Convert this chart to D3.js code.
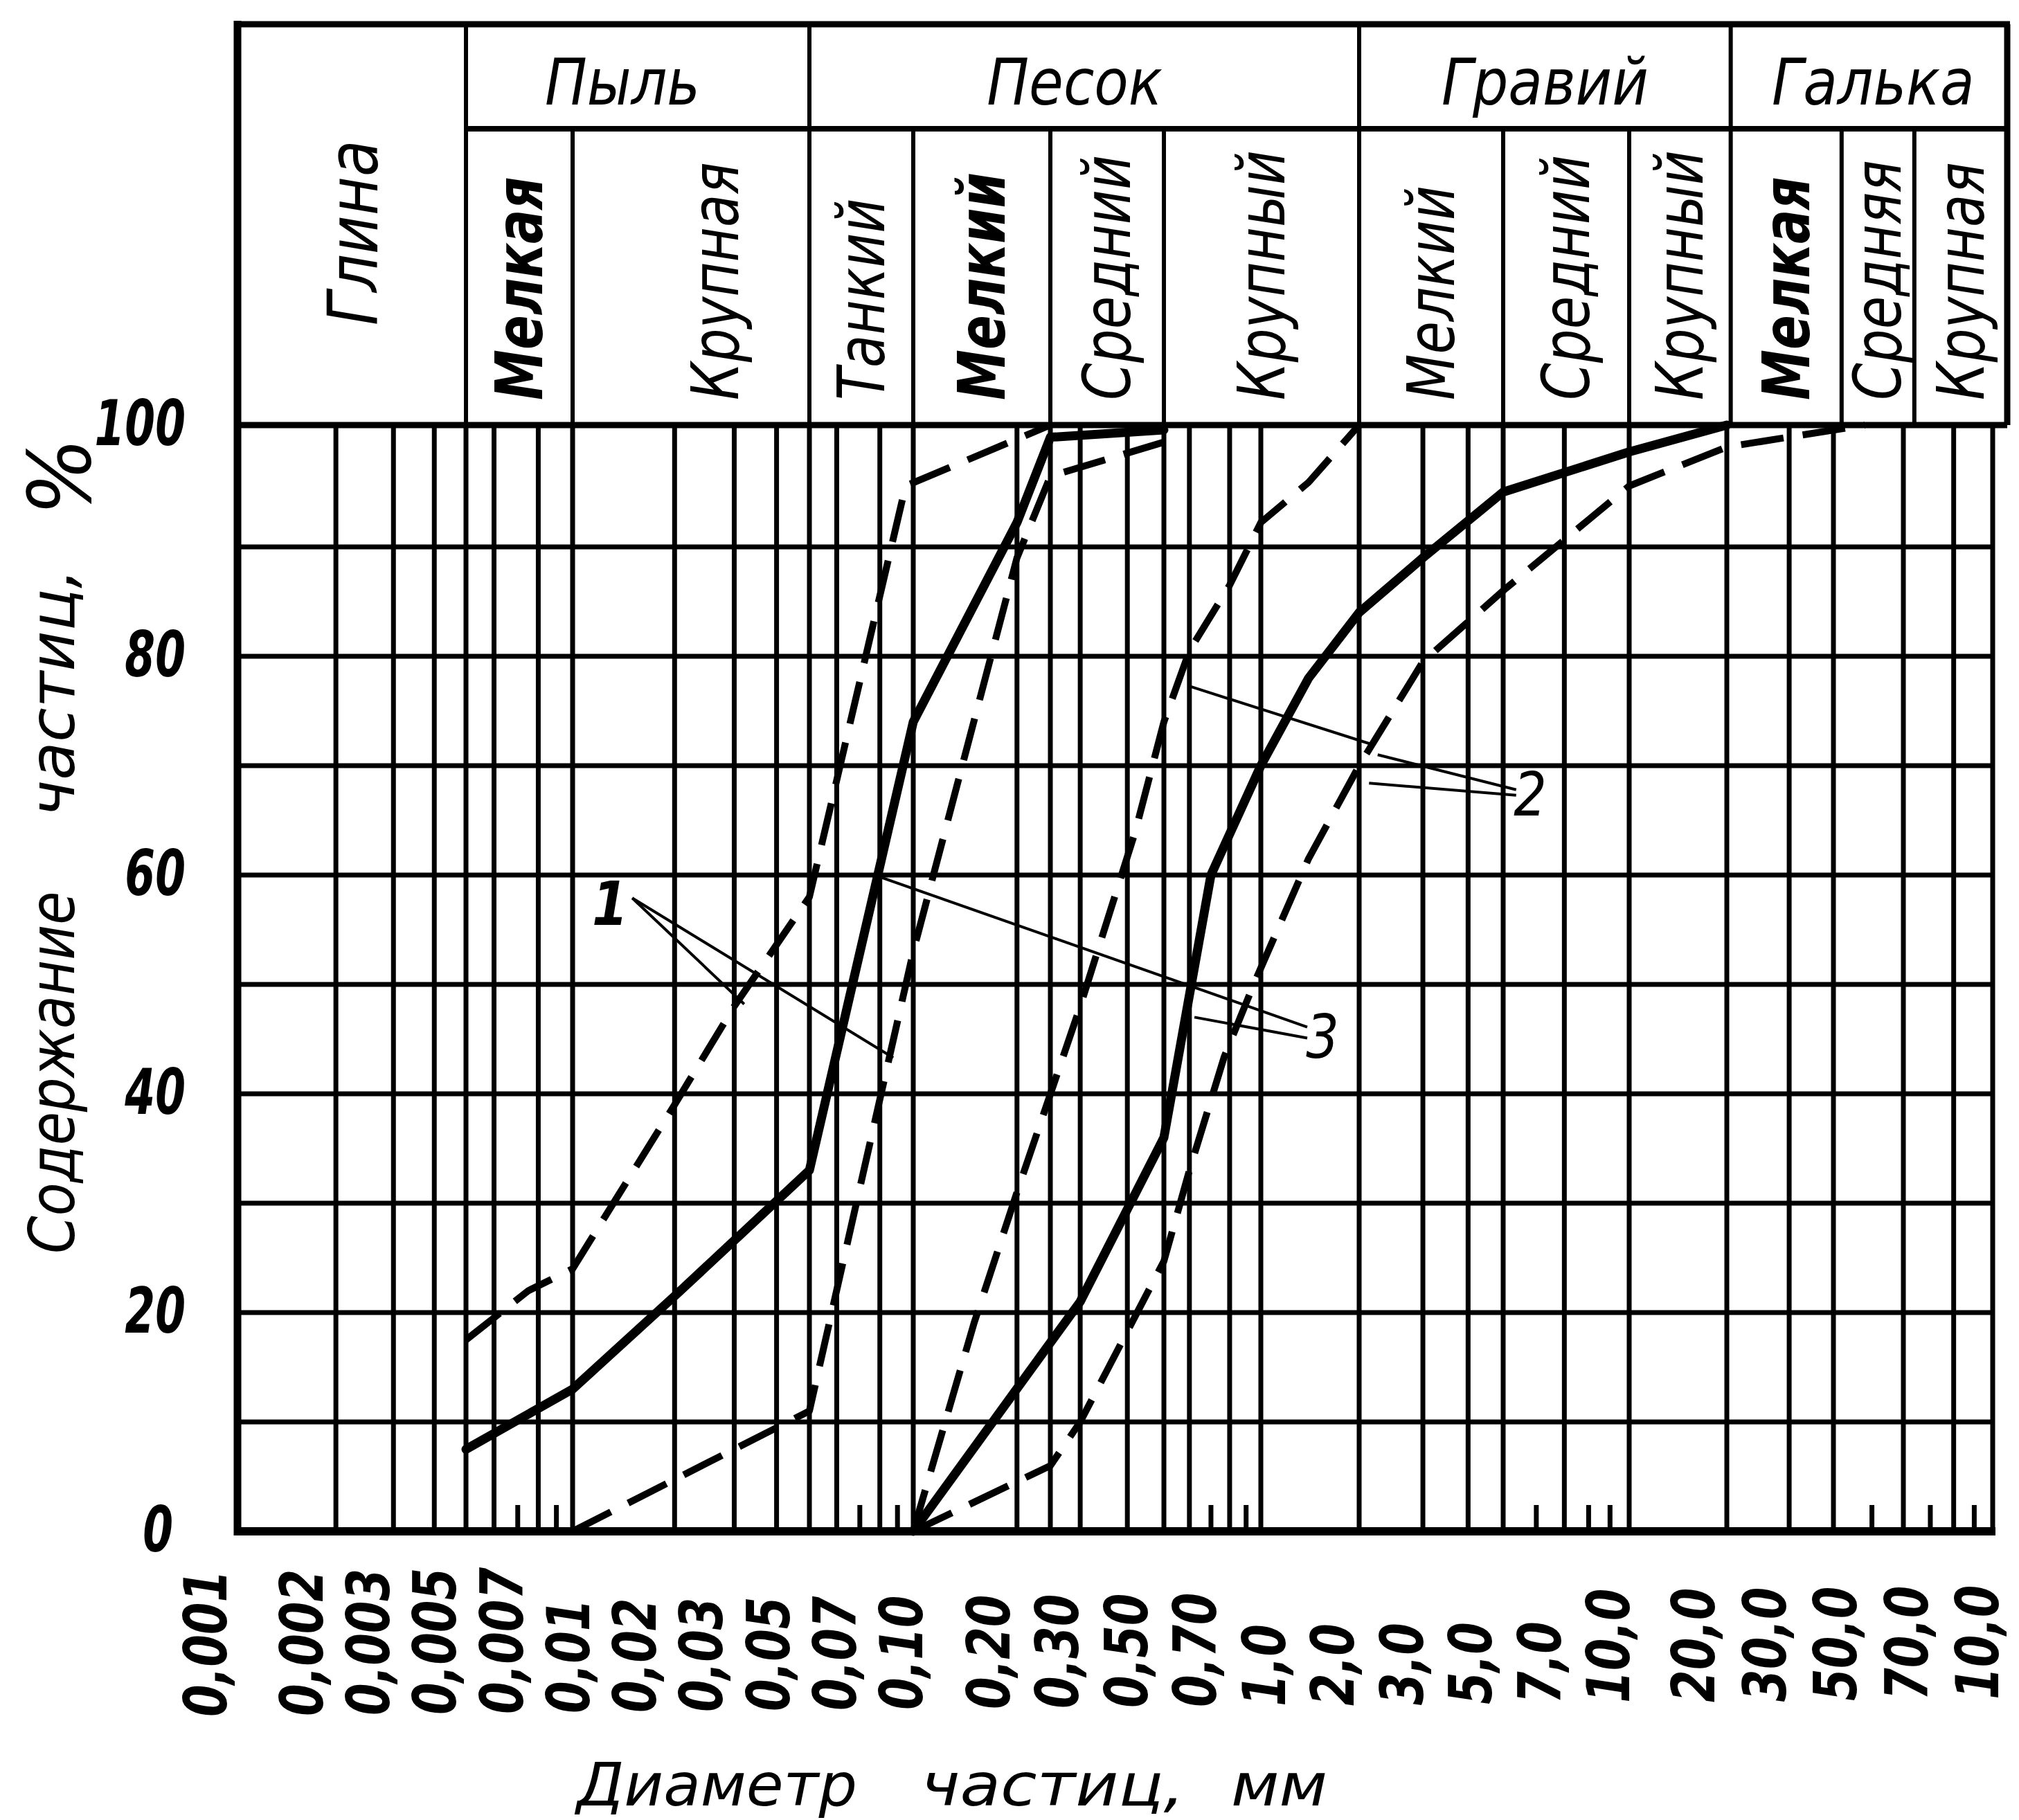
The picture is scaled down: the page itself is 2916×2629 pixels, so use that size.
<!DOCTYPE html>
<html><head><meta charset="utf-8">
<script src="https://cdn.jsdelivr.net/npm/d3@7"></script>
<style>body{margin:0;background:#fff}svg{display:block}</style>
</head><body>
<svg id="c" width="2916" height="2629"></svg>
<script>
// ---------------- data ----------------
const yGridValues = [0,10,20,30,40,50,60,70,80,90,100];
const yTickValues = [0,20,40,60,80,100];
const gridDiameters = [0.001,0.002,0.003,0.004,0.005,0.006,0.008,0.01,0.02,0.03,0.04,0.05,0.06,0.08,0.1,0.2,0.25,0.3,0.4,0.5,0.6,0.8,1,2,3,4,5,7,10,20,30,40,60,80,100];
const shortTickDiameters = [0.007,0.009,0.07,0.09,0.7,0.9,6,8,9,50,70,90];
const xTickLabels = ["0,001","0,002","0,003","0,005","0,007","0,01","0,02","0,03","0,05","0,07","0,10","0,20","0,30","0,50","0,70","1,0","2,0","3,0","5,0","7,0","10,0","20,0","30,0","50,0","70,0","10,0"];
const groupNames = ["Пыль","Песок","Гравий","Галька"];
const groupBounds = [[0.005,0.05],[0.05,2],[2,20],[20,100]];
const classNames = ["Глина","Мелкая","Крупная","Танкий","Мелкий","Средний","Крупный","Мелкий","Средний","Крупный","Мелкая","Средняя","Крупная"];
const classBounds = [0.001,0.005,0.01,0.05,0.1,0.25,0.5,2,5,10,20,40,60,100];
// curves: [diameter mm, percent]
const fineUpper = [[0.005,17.5],[0.0075,22],[0.01,24],[0.02,39],[0.03,48],[0.05,58],[0.095,95],[0.25,100]];
const fineMean  = [[0.005,7.5],[0.01,13],[0.02,21.5],[0.05,33],[0.1,74],[0.2,92],[0.25,99],[0.5,99.6]];
const fineLower = [[0.01,0],[0.05,11],[0.1,53],[0.2,89],[0.25,95.8],[0.5,98.6]];
const coarseMean  = [[0.1,0],[0.3,21],[0.5,36],[0.7,60],[1,70],[1.4,78],[2,84],[3,89],[5,94.5],[10,97.8],[20,100]];
const coarseUpper = [[0.1,0],[0.15,19],[0.2,31],[0.3,48],[0.42,64],[0.5,74],[0.6,80.5],[0.8,86.5],[1,92],[1.4,95.3],[2,100]];
const coarseLower = [[0.1,0],[0.25,6],[0.3,10],[0.5,24.7],[0.6,33],[0.77,43.4],[0.95,50],[1.4,61.5],[2,70],[3,79.5],[5,86],[10,95],[20,98.2],[48,100]];
// callouts
const calloutNames = ["1","2","3"];
const calloutAt = [[0.0129,57.5],[5.8,67.5],[1.545,45.3]];
const calloutLines = [
  [0,[0.015,57.9],[0.0321,48.2]],
  [0,[0.015,57.9],[0.0875,43.3]],
  [1,[0.595,77.3],[2.19,71.9]],
  [1,[2.25,71.0],[5.37,67.8]],
  [1,[2.13,68.4],[5.37,67.3]],
  [2,[0.0772,60.0],[1.387,46.1]],
  [2,[0.622,47.0],[1.387,45.1]]
];

// ---------------- scales ----------------
const xKnots = [0.001,0.005,0.01,0.05,0.1,0.25,0.5,1,2,5,10,20,40,60,100];
const xKnotPx = [343,673,827,1169,1319,1517,1681,1821,1963,2171,2353,2494,2648,2749,2878];
const xLog = d3.scaleLinear().domain(xKnots.map(Math.log10)).range(xKnotPx);
const x = d => xLog(Math.log10(d));
const hx = d => { const v = x(d); return v + Math.max(0, v - 2353) * 0.04; };
const y = d3.scaleLinear().domain([0,90,100]).range([2212,790,614]);
const labelX = d3.scaleLinear().domain([0,1,10,11,20,21,25]).range([303,442,1308,1434,2329,2452,2862]);

const FONT = '"DejaVu Sans", sans-serif';
const svg = d3.select('#c');
svg.append('rect').attr('width',2916).attr('height',2629).attr('fill','#fff');

function txt(g, s, tx, ty, o) {
  const t = g.append('text')
    .attr('transform', `translate(${tx},${ty}) rotate(${o.rot||0}) scale(${o.sx||1},1)`)
    .attr('font-family', FONT).attr('font-style', o.style||'italic')
    .attr('font-weight', o.weight||'normal').attr('font-size', o.size)
    .attr('text-anchor', o.anchor||'start').attr('fill','#000').text(s);
  if (o.len) t.attr('textLength', o.len).attr('lengthAdjust','spacingAndGlyphs');
  return t;
}

// ---------------- grid ----------------
const grid = svg.append('g').attr('stroke','#000');
grid.selectAll('line.v').data(gridDiameters).join('line')
  .attr('x1',d=>x(d)).attr('x2',d=>x(d)).attr('y1',y(100)).attr('y2',y(0))
  .attr('stroke-width',7);
grid.selectAll('line.h').data(yGridValues).join('line')
  .attr('x1',x(0.001)).attr('x2',x(100)).attr('y1',d=>y(d)).attr('y2',d=>y(d))
  .attr('stroke-width',7);
grid.selectAll('line.t').data(shortTickDiameters).join('line')
  .attr('x1',d=>x(d)).attr('x2',d=>x(d)).attr('y1',y(0)).attr('y2',y(0)-38)
  .attr('stroke-width',7);
// frame
grid.append('line').attr('x1',x(0.001)).attr('x2',x(0.001)).attr('y1',30).attr('y2',y(0)+6).attr('stroke-width',11);
grid.append('line').attr('x1',x(0.001)-5).attr('x2',x(100)+4).attr('y1',y(0)).attr('y2',y(0)).attr('stroke-width',12);
grid.append('line').attr('x1',x(0.001)).attr('x2',hx(100)).attr('y1',y(100)).attr('y2',y(100)).attr('stroke-width',9);

// ---------------- header ----------------
const head = svg.append('g').attr('stroke','#000');
const headTop = 35, headMid = 186;
head.append('line').attr('x1',hx(0.001)).attr('x2',hx(100)+4).attr('y1',headTop).attr('y2',headTop).attr('stroke-width',9);
head.append('line').attr('x1',hx(0.005)).attr('x2',hx(100)).attr('y1',headMid).attr('y2',headMid).attr('stroke-width',8);
const fullBounds = new Set([0.001,0.005,0.05,2,20,100]);
head.selectAll('line.c').data(classBounds).join('line')
  .attr('x1',d=>hx(d)).attr('x2',d=>hx(d))
  .attr('y1',d=>fullBounds.has(d)?headTop:headMid).attr('y2',y(100))
  .attr('stroke-width',d=>d===100?9:6);

const ht = svg.append('g');
const groupDx = [-22,-14,0,6];
groupNames.forEach((n,i)=>{
  const cx = (hx(groupBounds[i][0])+hx(groupBounds[i][1]))/2 + groupDx[i];
  txt(ht, n, cx, 151, {size:93, sx:0.87, anchor:'middle'});
});
const boldCols = new Set([1,4,10]);
classNames.forEach((n,i)=>{
  const cx = (hx(classBounds[i])+hx(classBounds[i+1]))/2;
  if (i===0) {
    txt(ht, n, cx+37, 470, {size:100, sx:0.86, rot:-90});
  } else {
    const dx = i===2 ? 35 : 0;
    txt(ht, n, cx+33+dx, 578, {size:94, sx: boldCols.has(i)?0.78:0.82, rot:-90, weight: boldCols.has(i)?'bold':'normal'});
  }
});

// ---------------- axes labels ----------------
const ax = svg.append('g');
yTickValues.forEach(v=>{
  txt(ax, String(v), v===0?250:268, y(v)+29, {size:90, sx:0.7, anchor:'end', weight:'bold'});
});
xTickLabels.forEach((s,i)=>{
  const yStart = 2480 - 25*i/25;
  txt(ax, s, labelX(i)+24, yStart, {size:86, sx:0.78, rot:-90, weight:'bold'});
});
// titles
txt(ax, 'Содержание', 107, 1811, {size:90, sx:0.87, rot:-90});
txt(ax, 'частиц,', 107, 1180, {size:90, sx:1.0, rot:-90});
txt(ax, '%', 130, 745, {size:125, sx:0.95, rot:-90});
txt(ax, 'Диаметр', 833, 2608, {size:85, len:405});
txt(ax, 'частиц,', 1330, 2608, {size:85, len:381});
txt(ax, 'мм', 1778, 2608, {size:85, len:139});

// ---------------- curves ----------------
const line = d3.line().x(d=>x(d[0])).y(d=>y(d[1]));
const cg = svg.append('g').attr('fill','none').attr('stroke','#000')
  .attr('stroke-linejoin','round');
[fineUpper, fineLower, coarseUpper, coarseLower].forEach(c=>{
  cg.append('path').attr('d',line(c)).attr('stroke-width',10).attr('stroke-dasharray','62 28');
});
[fineMean, coarseMean].forEach(c=>{
  cg.append('path').attr('d',line(c)).attr('stroke-width',13).attr('stroke-linecap','round');
});

// ---------------- callouts ----------------
const co = svg.append('g');
calloutLines.forEach(([k,a,b])=>{
  co.append('line').attr('x1',x(a[0])).attr('y1',y(a[1])).attr('x2',x(b[0])).attr('y2',y(b[1]))
    .attr('stroke','#000').attr('stroke-width',4);
});
calloutNames.forEach((n,i)=>{
  txt(co, n, x(calloutAt[i][0]), y(calloutAt[i][1])+32, {size:88, sx:0.85, anchor:'middle', weight: i===0?'bold':'normal'});
});
</script>
</body></html>
